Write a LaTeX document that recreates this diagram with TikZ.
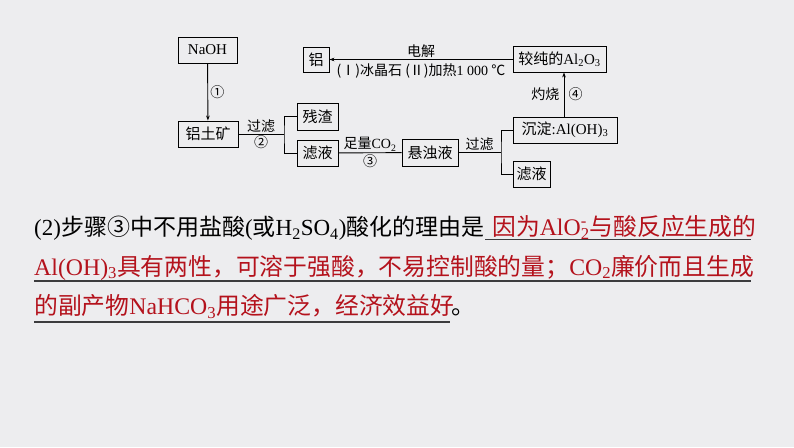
\documentclass[tikz,border=0pt]{standalone}
\usepackage{fontspec}
\setmainfont{Noto Sans CJK SC}
\newfontfamily\tnr{Liberation Serif}
\usetikzlibrary{arrows.meta,positioning}
\definecolor{bgpage}{RGB}{237,237,239}
\definecolor{ansred}{RGB}{180,18,28}
\definecolor{uline}{RGB}{60,60,62}
\newcommand\dn[1]{\textsubscript{#1}}

\begin{document}
\begin{tikzpicture}[x=1pt,y=-1pt,
  box/.style={draw, line width=0.9pt, inner sep=0pt, minimum height=26, font=\fontsize{15}{16}\selectfont},
  lbl/.style={inner sep=1.2pt, font=\fontsize{14}{15}\selectfont},
  flow/.style={line width=0.9pt},
  flowarr/.style={line width=0.9pt, -{Stealth[length=5pt,width=3.6pt]}},
  txt/.style={inner sep=0pt, anchor=base west, font=\fontsize{23.8}{28}\selectfont},
  ul/.style={uline, line width=1.3pt}]
  \fill[bgpage] (0,0) rectangle (794,447);
  \useasboundingbox (0,0) rectangle (794,447);
  % flow chart boxes
  \node[box, minimum width=59] (naoh) at (207.5,50) {\tnr NaOH};
  \node[box, minimum width=60] (ore) at (208,134) {铝土矿};
  \node[box, minimum width=41, minimum height=27] (zha) at (317.5,116.5) {残渣};
  \node[box, minimum width=41] (lvone) at (317.5,153) {滤液};
  \node[box, minimum width=56, minimum height=27] (xuan) at (430,152.5) {悬浊液};
  \node[box, minimum width=26, minimum height=25] (alu) at (316,59.5) {铝};
  \node[box, minimum width=93] (oxide) at (559.5,59) {较纯的{\tnr Al\dn{2}O\dn{3}}};
  \node[box, minimum width=104] (chen) at (565,130) {沉淀{\tnr :Al(OH)\dn{3}}};
  \node[box, minimum width=37] (lvtwo) at (531.5,174) {滤液};
  \coordinate (sone) at (284,134);
  \coordinate (stwo) at (501,152.5);
  % connectors
  \draw[flowarr] (naoh) -- node[lbl, right=1pt]{①} (ore);
  \draw[flow] (ore.east) -- node[lbl, above]{过滤} node[lbl, below]{②} (sone);
  \draw[flow] (zha.west) -| (sone) |- (lvone.west);
  \draw[flow] (lvone) -- node[lbl, above]{足量{\tnr CO\dn{2}}} node[lbl, below]{③} (xuan);
  \draw[flow] (xuan.east) -- node[lbl, above]{过滤} (stwo);
  \draw[flow] (chen.west) -| (stwo) |- (lvtwo.west);
  \draw[flowarr] ([xshift=-1pt]chen.north) -- node[lbl, left=3pt]{灼烧} node[lbl, right=3pt]{④} ([xshift=-1pt]chen.north |- oxide.south);
  \draw[flowarr] (oxide.west |- alu.east) -- node[lbl, above]{电解}
    node[lbl, below=3pt]{({Ⅰ})冰晶石 ({Ⅱ})加热{\tnr 1 000} ℃} (alu.east);
  % question and answer
  \node[txt, font=\fontsize{23}{28}\selectfont] (qone) at (34,235.5) {{\tnr (2)}步骤③中不用盐酸{\tnr (}或{\tnr H\dn{2}SO\dn{4})}酸化的理由是};
  \node[txt, ansred] (aone) at (492,235.5) {因为{\tnr AlO\rlap{\textsuperscript{-}}\dn{2}}与酸反应生成的};
  \node[txt, ansred] (atwo) at (34,275) {{\tnr Al(OH)\dn{3}}具有两性，可溶于强酸，不易控制酸的量；{\tnr CO\dn{2}}廉价而且生成};
  \node[txt, ansred] (athree) at (34,314.5) {的副产物{\tnr NaHCO\dn{3}}用途广泛，经济效益好};
  \node[txt] (dot) at (451,314.5) {。};
  \draw[ul] (485,239.5) -- (751,239.5);
  \draw[ul] (34,281) -- (751,281);
  \draw[ul] (34,322) -- (450,322);
\end{tikzpicture}
\end{document}
